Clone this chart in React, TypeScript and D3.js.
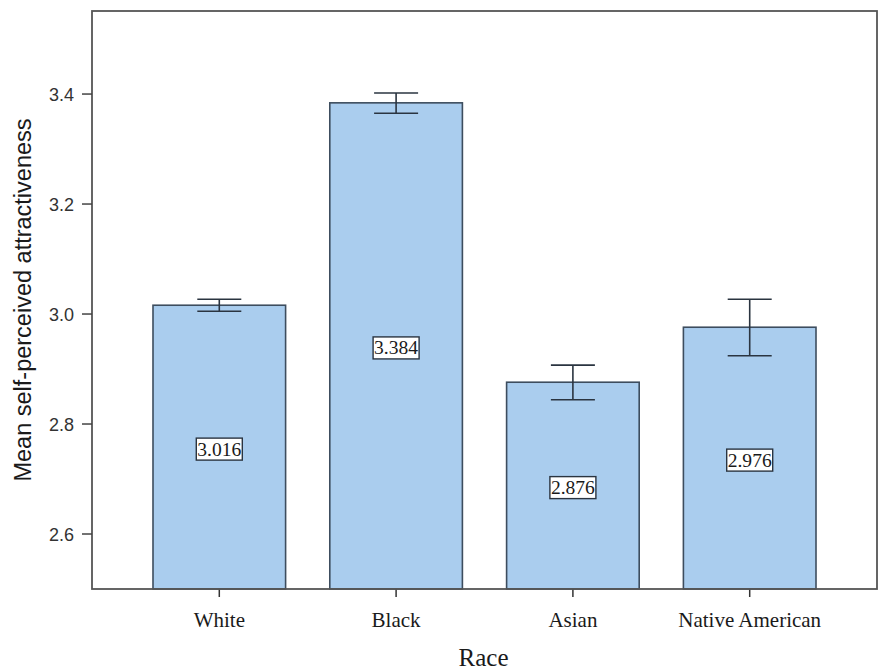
import React from "react";
import * as d3 from "d3";

const categories = ["White", "Black", "Asian", "Native American"];
const means = [3.016, 3.384, 2.876, 2.976];
const errLow = [3.005, 3.365, 2.844, 2.924];
const errHigh = [3.027, 3.402, 2.907, 3.027];
const yTicks = [2.6, 2.8, 3.0, 3.2, 3.4];

const W = 881;
const H = 671;
const L = 92, R = 877, T = 11, B = 589;

export default function App() {
  const y = d3.scaleLinear().domain([2.5, 3.551]).range([B, T]);
  const x = d3.scalePoint<string>().domain(categories).range([L, R]).padding(0.72);
  const bw = x.step() * 0.75;
  const capW = 44;
  const fmt = d3.format(".1f");

  return (
    <svg width={W} height={H} style={{ position: "absolute", left: 0, top: 0, background: "#fff" }}>
      {categories.map((c, i) => {
        const cx = x(c)!;
        const top = y(means[i]);
        const mid = (top + B) / 2;
        const label = means[i].toFixed(3);
        return (
          <g key={c}>
            <rect x={cx - bw / 2} y={top} width={bw} height={B - top} fill="#aacdee" stroke="#3d4d5e" strokeWidth={1.6} />
            <line x1={cx} x2={cx} y1={y(errHigh[i])} y2={y(errLow[i])} stroke="#2a3440" strokeWidth={1.6} />
            <line x1={cx - capW / 2} x2={cx + capW / 2} y1={y(errHigh[i])} y2={y(errHigh[i])} stroke="#2a3440" strokeWidth={1.6} />
            <line x1={cx - capW / 2} x2={cx + capW / 2} y1={y(errLow[i])} y2={y(errLow[i])} stroke="#2a3440" strokeWidth={1.6} />
            <rect x={cx - 23} y={mid - 9} width={46} height={22} fill="#fff" stroke="#2a3440" strokeWidth={1.4} />
            <text x={cx} y={mid + 8.5} textAnchor="middle" fontFamily="Liberation Serif" fontSize={19.5} fill="#1a1a1a" textLength={44} lengthAdjust="spacingAndGlyphs">{label}</text>
            <line x1={cx} x2={cx} y1={B} y2={B + 8} stroke="#333" strokeWidth={1.5} />
            <text x={cx} y={627} textAnchor="middle" fontFamily="Liberation Serif" fontSize={21} fill="#1a1a1a">{c}</text>
          </g>
        );
      })}
      <rect x={L} y={T} width={R - L} height={B - T} fill="none" stroke="#555" strokeWidth={1.8} />
      {yTicks.map((t) => (
        <g key={t}>
          <line x1={L - 10} x2={L} y1={y(t)} y2={y(t)} stroke="#444" strokeWidth={1.5} />
          <text x={L - 18} y={y(t) + 7} textAnchor="end" fontFamily="Liberation Sans" fontSize={18} fill="#333">{fmt(t)}</text>
        </g>
      ))}
      <text transform={`translate(31,${(T + B) / 2 + 0}) rotate(-90)`} textAnchor="middle" fontFamily="Liberation Sans" fontSize={23.5} fill="#1a1a1a">Mean self-perceived attractiveness</text>
      <text x={(L + R) / 2 - 1} y={666} textAnchor="middle" fontFamily="Liberation Serif" fontSize={25} fill="#1a1a1a">Race</text>
    </svg>
  );
}
